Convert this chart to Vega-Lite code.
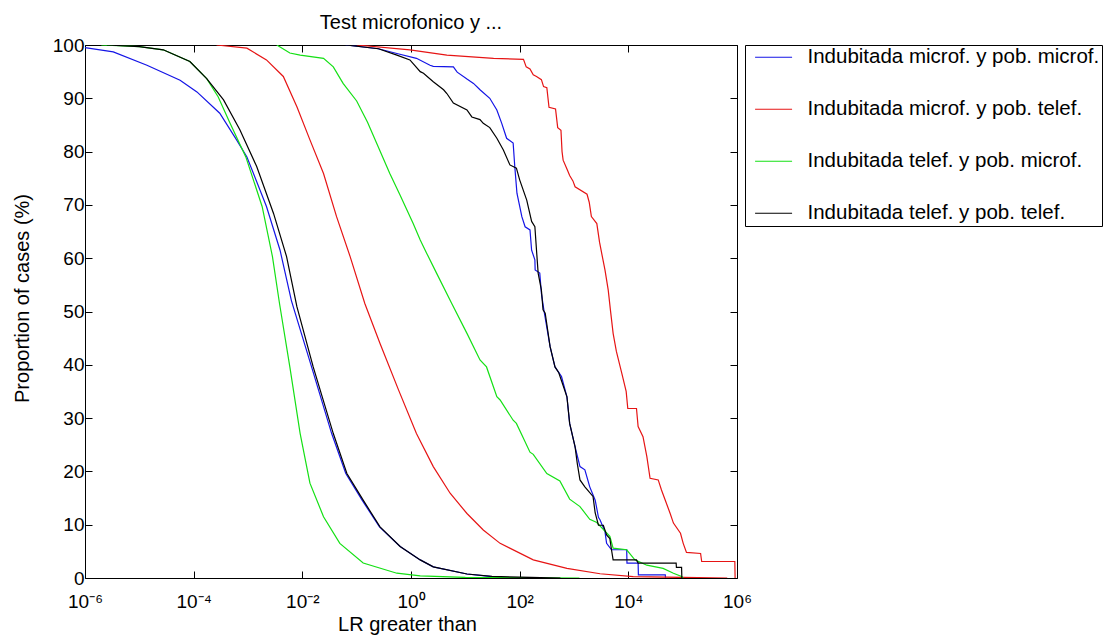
{
  "$schema": "https://vega.github.io/schema/vega-lite/v6.json",
  "width": 652,
  "height": 533,
  "autosize": {"type": "none"},
  "padding": {"left": 85, "top": 45, "right": 372, "bottom": 64},
  "background": "white",
  "title": {"text": "Test microfonico y ...", "fontSize": 20, "fontWeight": "normal", "font": "Liberation Sans", "anchor": "middle", "baseline": "alphabetic", "offset": -13, "color": "black"},
  "config": {
    "font": "Liberation Sans",
    "view": {"stroke": "black", "strokeWidth": 1},
    "axis": {"grid": false, "domain": false, "tickColor": "black", "tickWidth": 1, "tickSize": -7, "labelColor": "black", "titleColor": "black", "labelFont": "Liberation Sans", "titleFont": "Liberation Sans", "labelFontSize": 19, "titleFontSize": 20, "titleFontWeight": "normal"}
  },
  "data": {"values": [
    {"series": "Indubitada microf. y pob. microf.", "part": "L", "lr": -6.0, "pct": 99.5},
    {"series": "Indubitada microf. y pob. microf.", "part": "L", "lr": -5.48, "pct": 98.7},
    {"series": "Indubitada microf. y pob. microf.", "part": "L", "lr": -4.86, "pct": 96.2},
    {"series": "Indubitada microf. y pob. microf.", "part": "L", "lr": -4.25, "pct": 93.4},
    {"series": "Indubitada microf. y pob. microf.", "part": "L", "lr": -3.94, "pct": 91.2},
    {"series": "Indubitada microf. y pob. microf.", "part": "L", "lr": -3.52, "pct": 87.2},
    {"series": "Indubitada microf. y pob. microf.", "part": "L", "lr": -3.21, "pct": 82.2},
    {"series": "Indubitada microf. y pob. microf.", "part": "L", "lr": -3.02, "pct": 79.0},
    {"series": "Indubitada microf. y pob. microf.", "part": "L", "lr": -2.66, "pct": 69.7},
    {"series": "Indubitada microf. y pob. microf.", "part": "L", "lr": -2.41, "pct": 61.5},
    {"series": "Indubitada microf. y pob. microf.", "part": "L", "lr": -2.2, "pct": 52.0},
    {"series": "Indubitada microf. y pob. microf.", "part": "L", "lr": -1.83, "pct": 39.6},
    {"series": "Indubitada microf. y pob. microf.", "part": "L", "lr": -1.46, "pct": 27.1},
    {"series": "Indubitada microf. y pob. microf.", "part": "L", "lr": -1.2, "pct": 19.6},
    {"series": "Indubitada microf. y pob. microf.", "part": "L", "lr": -0.9, "pct": 14.6},
    {"series": "Indubitada microf. y pob. microf.", "part": "L", "lr": -0.58, "pct": 9.6},
    {"series": "Indubitada microf. y pob. microf.", "part": "L", "lr": -0.2, "pct": 5.9},
    {"series": "Indubitada microf. y pob. microf.", "part": "L", "lr": 0.17, "pct": 3.4},
    {"series": "Indubitada microf. y pob. microf.", "part": "L", "lr": 0.41, "pct": 2.1},
    {"series": "Indubitada microf. y pob. microf.", "part": "L", "lr": 1.03, "pct": 0.75},
    {"series": "Indubitada microf. y pob. microf.", "part": "L", "lr": 1.45, "pct": 0.3},
    {"series": "Indubitada microf. y pob. microf.", "part": "L", "lr": 1.6, "pct": 0.0},
    {"series": "Indubitada microf. y pob. microf.", "part": "R", "lr": -1.2, "pct": 100.0},
    {"series": "Indubitada microf. y pob. microf.", "part": "R", "lr": -0.6, "pct": 99.3},
    {"series": "Indubitada microf. y pob. microf.", "part": "R", "lr": -0.26, "pct": 98.4},
    {"series": "Indubitada microf. y pob. microf.", "part": "R", "lr": 0.1, "pct": 97.5},
    {"series": "Indubitada microf. y pob. microf.", "part": "R", "lr": 0.35, "pct": 96.2},
    {"series": "Indubitada microf. y pob. microf.", "part": "R", "lr": 0.41, "pct": 96.0},
    {"series": "Indubitada microf. y pob. microf.", "part": "R", "lr": 0.78, "pct": 95.9},
    {"series": "Indubitada microf. y pob. microf.", "part": "R", "lr": 0.85, "pct": 94.9},
    {"series": "Indubitada microf. y pob. microf.", "part": "R", "lr": 1.03, "pct": 93.6},
    {"series": "Indubitada microf. y pob. microf.", "part": "R", "lr": 1.15, "pct": 92.8},
    {"series": "Indubitada microf. y pob. microf.", "part": "R", "lr": 1.27, "pct": 91.6},
    {"series": "Indubitada microf. y pob. microf.", "part": "R", "lr": 1.45, "pct": 90.0},
    {"series": "Indubitada microf. y pob. microf.", "part": "R", "lr": 1.58, "pct": 87.8},
    {"series": "Indubitada microf. y pob. microf.", "part": "R", "lr": 1.67, "pct": 85.3},
    {"series": "Indubitada microf. y pob. microf.", "part": "R", "lr": 1.76, "pct": 82.5},
    {"series": "Indubitada microf. y pob. microf.", "part": "R", "lr": 1.88, "pct": 81.6},
    {"series": "Indubitada microf. y pob. microf.", "part": "R", "lr": 1.91, "pct": 77.2},
    {"series": "Indubitada microf. y pob. microf.", "part": "R", "lr": 1.95, "pct": 72.2},
    {"series": "Indubitada microf. y pob. microf.", "part": "R", "lr": 2.04, "pct": 67.8},
    {"series": "Indubitada microf. y pob. microf.", "part": "R", "lr": 2.1, "pct": 65.9},
    {"series": "Indubitada microf. y pob. microf.", "part": "R", "lr": 2.19, "pct": 65.3},
    {"series": "Indubitada microf. y pob. microf.", "part": "R", "lr": 2.22, "pct": 61.5},
    {"series": "Indubitada microf. y pob. microf.", "part": "R", "lr": 2.28, "pct": 59.7},
    {"series": "Indubitada microf. y pob. microf.", "part": "R", "lr": 2.285, "pct": 57.8},
    {"series": "Indubitada microf. y pob. microf.", "part": "R", "lr": 2.37, "pct": 57.2},
    {"series": "Indubitada microf. y pob. microf.", "part": "R", "lr": 2.4, "pct": 53.4},
    {"series": "Indubitada microf. y pob. microf.", "part": "R", "lr": 2.45, "pct": 50.0},
    {"series": "Indubitada microf. y pob. microf.", "part": "R", "lr": 2.56, "pct": 43.4},
    {"series": "Indubitada microf. y pob. microf.", "part": "R", "lr": 2.65, "pct": 39.6},
    {"series": "Indubitada microf. y pob. microf.", "part": "R", "lr": 2.77, "pct": 37.8},
    {"series": "Indubitada microf. y pob. microf.", "part": "R", "lr": 2.87, "pct": 34.0},
    {"series": "Indubitada microf. y pob. microf.", "part": "R", "lr": 2.92, "pct": 29.0},
    {"series": "Indubitada microf. y pob. microf.", "part": "R", "lr": 3.02, "pct": 24.6},
    {"series": "Indubitada microf. y pob. microf.", "part": "R", "lr": 3.11, "pct": 20.9},
    {"series": "Indubitada microf. y pob. microf.", "part": "R", "lr": 3.2, "pct": 20.3},
    {"series": "Indubitada microf. y pob. microf.", "part": "R", "lr": 3.29, "pct": 17.1},
    {"series": "Indubitada microf. y pob. microf.", "part": "R", "lr": 3.39, "pct": 14.6},
    {"series": "Indubitada microf. y pob. microf.", "part": "R", "lr": 3.45, "pct": 11.4},
    {"series": "Indubitada microf. y pob. microf.", "part": "R", "lr": 3.48, "pct": 10.9},
    {"series": "Indubitada microf. y pob. microf.", "part": "R", "lr": 3.57, "pct": 8.7},
    {"series": "Indubitada microf. y pob. microf.", "part": "R", "lr": 3.6, "pct": 6.5},
    {"series": "Indubitada microf. y pob. microf.", "part": "R", "lr": 3.69, "pct": 5.3},
    {"series": "Indubitada microf. y pob. microf.", "part": "R", "lr": 3.97, "pct": 5.3},
    {"series": "Indubitada microf. y pob. microf.", "part": "R", "lr": 3.975, "pct": 2.8},
    {"series": "Indubitada microf. y pob. microf.", "part": "R", "lr": 4.18, "pct": 2.8},
    {"series": "Indubitada microf. y pob. microf.", "part": "R", "lr": 4.185, "pct": 0.6},
    {"series": "Indubitada microf. y pob. microf.", "part": "R", "lr": 4.68, "pct": 0.6},
    {"series": "Indubitada microf. y pob. microf.", "part": "R", "lr": 4.685, "pct": 0.0},

    {"series": "Indubitada microf. y pob. telef.", "part": "L", "lr": -3.58, "pct": 100.0},
    {"series": "Indubitada microf. y pob. telef.", "part": "L", "lr": -3.02, "pct": 99.4},
    {"series": "Indubitada microf. y pob. telef.", "part": "L", "lr": -2.66, "pct": 97.2},
    {"series": "Indubitada microf. y pob. telef.", "part": "L", "lr": -2.35, "pct": 94.1},
    {"series": "Indubitada microf. y pob. telef.", "part": "L", "lr": -2.1, "pct": 88.4},
    {"series": "Indubitada microf. y pob. telef.", "part": "L", "lr": -1.86, "pct": 82.2},
    {"series": "Indubitada microf. y pob. telef.", "part": "L", "lr": -1.61, "pct": 75.9},
    {"series": "Indubitada microf. y pob. telef.", "part": "L", "lr": -1.37, "pct": 67.8},
    {"series": "Indubitada microf. y pob. telef.", "part": "L", "lr": -1.12, "pct": 60.3},
    {"series": "Indubitada microf. y pob. telef.", "part": "L", "lr": -0.85, "pct": 51.5},
    {"series": "Indubitada microf. y pob. telef.", "part": "L", "lr": -0.57, "pct": 44.0},
    {"series": "Indubitada microf. y pob. telef.", "part": "L", "lr": -0.23, "pct": 35.3},
    {"series": "Indubitada microf. y pob. telef.", "part": "L", "lr": 0.1, "pct": 27.1},
    {"series": "Indubitada microf. y pob. telef.", "part": "L", "lr": 0.41, "pct": 20.9},
    {"series": "Indubitada microf. y pob. telef.", "part": "L", "lr": 0.72, "pct": 15.9},
    {"series": "Indubitada microf. y pob. telef.", "part": "L", "lr": 1.03, "pct": 12.1},
    {"series": "Indubitada microf. y pob. telef.", "part": "L", "lr": 1.33, "pct": 9.0},
    {"series": "Indubitada microf. y pob. telef.", "part": "L", "lr": 1.64, "pct": 6.5},
    {"series": "Indubitada microf. y pob. telef.", "part": "L", "lr": 2.25, "pct": 3.4},
    {"series": "Indubitada microf. y pob. telef.", "part": "L", "lr": 2.87, "pct": 1.8},
    {"series": "Indubitada microf. y pob. telef.", "part": "L", "lr": 3.48, "pct": 0.8},
    {"series": "Indubitada microf. y pob. telef.", "part": "L", "lr": 4.09, "pct": 0.25},
    {"series": "Indubitada microf. y pob. telef.", "part": "L", "lr": 5.0, "pct": 0.1},
    {"series": "Indubitada microf. y pob. telef.", "part": "L", "lr": 5.82, "pct": 0.0},
    {"series": "Indubitada microf. y pob. telef.", "part": "R", "lr": -1.0, "pct": 100.0},
    {"series": "Indubitada microf. y pob. telef.", "part": "R", "lr": -0.02, "pct": 99.1},
    {"series": "Indubitada microf. y pob. telef.", "part": "R", "lr": 0.66, "pct": 98.1},
    {"series": "Indubitada microf. y pob. telef.", "part": "R", "lr": 1.52, "pct": 97.5},
    {"series": "Indubitada microf. y pob. telef.", "part": "R", "lr": 2.07, "pct": 97.3},
    {"series": "Indubitada microf. y pob. telef.", "part": "R", "lr": 2.12, "pct": 95.9},
    {"series": "Indubitada microf. y pob. telef.", "part": "R", "lr": 2.19, "pct": 95.5},
    {"series": "Indubitada microf. y pob. telef.", "part": "R", "lr": 2.25, "pct": 94.4},
    {"series": "Indubitada microf. y pob. telef.", "part": "R", "lr": 2.31, "pct": 94.1},
    {"series": "Indubitada microf. y pob. telef.", "part": "R", "lr": 2.4, "pct": 93.5},
    {"series": "Indubitada microf. y pob. telef.", "part": "R", "lr": 2.44, "pct": 92.2},
    {"series": "Indubitada microf. y pob. telef.", "part": "R", "lr": 2.5, "pct": 92.0},
    {"series": "Indubitada microf. y pob. telef.", "part": "R", "lr": 2.54, "pct": 88.3},
    {"series": "Indubitada microf. y pob. telef.", "part": "R", "lr": 2.66, "pct": 88.0},
    {"series": "Indubitada microf. y pob. telef.", "part": "R", "lr": 2.7, "pct": 84.5},
    {"series": "Indubitada microf. y pob. telef.", "part": "R", "lr": 2.76, "pct": 84.0},
    {"series": "Indubitada microf. y pob. telef.", "part": "R", "lr": 2.78, "pct": 80.0},
    {"series": "Indubitada microf. y pob. telef.", "part": "R", "lr": 2.8, "pct": 78.4},
    {"series": "Indubitada microf. y pob. telef.", "part": "R", "lr": 2.88, "pct": 76.5},
    {"series": "Indubitada microf. y pob. telef.", "part": "R", "lr": 2.92, "pct": 75.5},
    {"series": "Indubitada microf. y pob. telef.", "part": "R", "lr": 2.98, "pct": 74.5},
    {"series": "Indubitada microf. y pob. telef.", "part": "R", "lr": 3.02, "pct": 73.4},
    {"series": "Indubitada microf. y pob. telef.", "part": "R", "lr": 3.24, "pct": 72.0},
    {"series": "Indubitada microf. y pob. telef.", "part": "R", "lr": 3.28, "pct": 70.5},
    {"series": "Indubitada microf. y pob. telef.", "part": "R", "lr": 3.32, "pct": 67.8},
    {"series": "Indubitada microf. y pob. telef.", "part": "R", "lr": 3.42, "pct": 66.5},
    {"series": "Indubitada microf. y pob. telef.", "part": "R", "lr": 3.47, "pct": 63.0},
    {"series": "Indubitada microf. y pob. telef.", "part": "R", "lr": 3.51, "pct": 60.9},
    {"series": "Indubitada microf. y pob. telef.", "part": "R", "lr": 3.57, "pct": 57.8},
    {"series": "Indubitada microf. y pob. telef.", "part": "R", "lr": 3.63, "pct": 54.0},
    {"series": "Indubitada microf. y pob. telef.", "part": "R", "lr": 3.67, "pct": 50.3},
    {"series": "Indubitada microf. y pob. telef.", "part": "R", "lr": 3.72, "pct": 45.9},
    {"series": "Indubitada microf. y pob. telef.", "part": "R", "lr": 3.78, "pct": 42.5},
    {"series": "Indubitada microf. y pob. telef.", "part": "R", "lr": 3.88, "pct": 38.4},
    {"series": "Indubitada microf. y pob. telef.", "part": "R", "lr": 3.96, "pct": 35.0},
    {"series": "Indubitada microf. y pob. telef.", "part": "R", "lr": 3.99, "pct": 31.8},
    {"series": "Indubitada microf. y pob. telef.", "part": "R", "lr": 4.15, "pct": 31.8},
    {"series": "Indubitada microf. y pob. telef.", "part": "R", "lr": 4.18, "pct": 28.4},
    {"series": "Indubitada microf. y pob. telef.", "part": "R", "lr": 4.27, "pct": 26.5},
    {"series": "Indubitada microf. y pob. telef.", "part": "R", "lr": 4.34, "pct": 22.8},
    {"series": "Indubitada microf. y pob. telef.", "part": "R", "lr": 4.4, "pct": 18.7},
    {"series": "Indubitada microf. y pob. telef.", "part": "R", "lr": 4.55, "pct": 18.4},
    {"series": "Indubitada microf. y pob. telef.", "part": "R", "lr": 4.61, "pct": 16.5},
    {"series": "Indubitada microf. y pob. telef.", "part": "R", "lr": 4.68, "pct": 14.6},
    {"series": "Indubitada microf. y pob. telef.", "part": "R", "lr": 4.77, "pct": 12.1},
    {"series": "Indubitada microf. y pob. telef.", "part": "R", "lr": 4.83, "pct": 10.3},
    {"series": "Indubitada microf. y pob. telef.", "part": "R", "lr": 4.96, "pct": 8.4},
    {"series": "Indubitada microf. y pob. telef.", "part": "R", "lr": 5.01, "pct": 6.5},
    {"series": "Indubitada microf. y pob. telef.", "part": "R", "lr": 5.07, "pct": 4.8},
    {"series": "Indubitada microf. y pob. telef.", "part": "R", "lr": 5.33, "pct": 4.6},
    {"series": "Indubitada microf. y pob. telef.", "part": "R", "lr": 5.35, "pct": 3.1},
    {"series": "Indubitada microf. y pob. telef.", "part": "R", "lr": 5.96, "pct": 3.1},
    {"series": "Indubitada microf. y pob. telef.", "part": "R", "lr": 5.965, "pct": 0.0},

    {"series": "Indubitada telef. y pob. microf.", "part": "L", "lr": -5.7, "pct": 100.0},
    {"series": "Indubitada telef. y pob. microf.", "part": "L", "lr": -5.0, "pct": 99.7},
    {"series": "Indubitada telef. y pob. microf.", "part": "L", "lr": -4.56, "pct": 99.1},
    {"series": "Indubitada telef. y pob. microf.", "part": "L", "lr": -4.07, "pct": 96.9},
    {"series": "Indubitada telef. y pob. microf.", "part": "L", "lr": -3.76, "pct": 93.7},
    {"series": "Indubitada telef. y pob. microf.", "part": "L", "lr": -3.55, "pct": 90.3},
    {"series": "Indubitada telef. y pob. microf.", "part": "L", "lr": -3.33, "pct": 85.3},
    {"series": "Indubitada telef. y pob. microf.", "part": "L", "lr": -3.04, "pct": 79.0},
    {"series": "Indubitada telef. y pob. microf.", "part": "L", "lr": -2.74, "pct": 69.7},
    {"series": "Indubitada telef. y pob. microf.", "part": "L", "lr": -2.55, "pct": 60.3},
    {"series": "Indubitada telef. y pob. microf.", "part": "L", "lr": -2.42, "pct": 51.5},
    {"series": "Indubitada telef. y pob. microf.", "part": "L", "lr": -2.23, "pct": 39.6},
    {"series": "Indubitada telef. y pob. microf.", "part": "L", "lr": -2.04, "pct": 27.1},
    {"series": "Indubitada telef. y pob. microf.", "part": "L", "lr": -1.86, "pct": 17.8},
    {"series": "Indubitada telef. y pob. microf.", "part": "L", "lr": -1.61, "pct": 11.5},
    {"series": "Indubitada telef. y pob. microf.", "part": "L", "lr": -1.31, "pct": 6.5},
    {"series": "Indubitada telef. y pob. microf.", "part": "L", "lr": -0.88, "pct": 2.8},
    {"series": "Indubitada telef. y pob. microf.", "part": "L", "lr": -0.26, "pct": 0.9},
    {"series": "Indubitada telef. y pob. microf.", "part": "L", "lr": 0.17, "pct": 0.4},
    {"series": "Indubitada telef. y pob. microf.", "part": "L", "lr": 1.0, "pct": 0.1},
    {"series": "Indubitada telef. y pob. microf.", "part": "L", "lr": 3.1, "pct": 0.0},
    {"series": "Indubitada telef. y pob. microf.", "part": "R", "lr": -2.47, "pct": 100.0},
    {"series": "Indubitada telef. y pob. microf.", "part": "R", "lr": -2.23, "pct": 98.5},
    {"series": "Indubitada telef. y pob. microf.", "part": "R", "lr": -2.04, "pct": 98.1},
    {"series": "Indubitada telef. y pob. microf.", "part": "R", "lr": -1.61, "pct": 97.5},
    {"series": "Indubitada telef. y pob. microf.", "part": "R", "lr": -1.43, "pct": 95.9},
    {"series": "Indubitada telef. y pob. microf.", "part": "R", "lr": -1.25, "pct": 92.8},
    {"series": "Indubitada telef. y pob. microf.", "part": "R", "lr": -1.0, "pct": 89.5},
    {"series": "Indubitada telef. y pob. microf.", "part": "R", "lr": -0.8, "pct": 85.5},
    {"series": "Indubitada telef. y pob. microf.", "part": "R", "lr": -0.63, "pct": 81.5},
    {"series": "Indubitada telef. y pob. microf.", "part": "R", "lr": -0.39, "pct": 75.9},
    {"series": "Indubitada telef. y pob. microf.", "part": "R", "lr": -0.2, "pct": 71.8},
    {"series": "Indubitada telef. y pob. microf.", "part": "R", "lr": 0.04, "pct": 66.5},
    {"series": "Indubitada telef. y pob. microf.", "part": "R", "lr": 0.17, "pct": 63.4},
    {"series": "Indubitada telef. y pob. microf.", "part": "R", "lr": 0.29, "pct": 60.9},
    {"series": "Indubitada telef. y pob. microf.", "part": "R", "lr": 0.47, "pct": 57.2},
    {"series": "Indubitada telef. y pob. microf.", "part": "R", "lr": 0.75, "pct": 51.5},
    {"series": "Indubitada telef. y pob. microf.", "part": "R", "lr": 1.03, "pct": 45.9},
    {"series": "Indubitada telef. y pob. microf.", "part": "R", "lr": 1.27, "pct": 40.9},
    {"series": "Indubitada telef. y pob. microf.", "part": "R", "lr": 1.39, "pct": 39.6},
    {"series": "Indubitada telef. y pob. microf.", "part": "R", "lr": 1.58, "pct": 34.0},
    {"series": "Indubitada telef. y pob. microf.", "part": "R", "lr": 1.64, "pct": 33.4},
    {"series": "Indubitada telef. y pob. microf.", "part": "R", "lr": 1.88, "pct": 29.6},
    {"series": "Indubitada telef. y pob. microf.", "part": "R", "lr": 1.94, "pct": 29.0},
    {"series": "Indubitada telef. y pob. microf.", "part": "R", "lr": 2.19, "pct": 23.6},
    {"series": "Indubitada telef. y pob. microf.", "part": "R", "lr": 2.25, "pct": 23.2},
    {"series": "Indubitada telef. y pob. microf.", "part": "R", "lr": 2.5, "pct": 19.6},
    {"series": "Indubitada telef. y pob. microf.", "part": "R", "lr": 2.74, "pct": 18.2},
    {"series": "Indubitada telef. y pob. microf.", "part": "R", "lr": 2.92, "pct": 14.8},
    {"series": "Indubitada telef. y pob. microf.", "part": "R", "lr": 3.11, "pct": 13.4},
    {"series": "Indubitada telef. y pob. microf.", "part": "R", "lr": 3.29, "pct": 11.0},
    {"series": "Indubitada telef. y pob. microf.", "part": "R", "lr": 3.42, "pct": 10.4},
    {"series": "Indubitada telef. y pob. microf.", "part": "R", "lr": 3.66, "pct": 7.8},
    {"series": "Indubitada telef. y pob. microf.", "part": "R", "lr": 3.72, "pct": 5.6},
    {"series": "Indubitada telef. y pob. microf.", "part": "R", "lr": 3.97, "pct": 5.3},
    {"series": "Indubitada telef. y pob. microf.", "part": "R", "lr": 4.12, "pct": 3.4},
    {"series": "Indubitada telef. y pob. microf.", "part": "R", "lr": 4.34, "pct": 2.4},
    {"series": "Indubitada telef. y pob. microf.", "part": "R", "lr": 4.64, "pct": 1.8},
    {"series": "Indubitada telef. y pob. microf.", "part": "R", "lr": 4.83, "pct": 0.9},
    {"series": "Indubitada telef. y pob. microf.", "part": "R", "lr": 4.98, "pct": 0.3},
    {"series": "Indubitada telef. y pob. microf.", "part": "R", "lr": 5.01, "pct": 0.0},

    {"series": "Indubitada telef. y pob. telef.", "part": "L", "lr": -5.6, "pct": 100.0},
    {"series": "Indubitada telef. y pob. telef.", "part": "L", "lr": -5.0, "pct": 99.7},
    {"series": "Indubitada telef. y pob. telef.", "part": "L", "lr": -4.56, "pct": 99.1},
    {"series": "Indubitada telef. y pob. telef.", "part": "L", "lr": -4.07, "pct": 96.9},
    {"series": "Indubitada telef. y pob. telef.", "part": "L", "lr": -3.76, "pct": 93.7},
    {"series": "Indubitada telef. y pob. telef.", "part": "L", "lr": -3.45, "pct": 89.7},
    {"series": "Indubitada telef. y pob. telef.", "part": "L", "lr": -3.15, "pct": 84.1},
    {"series": "Indubitada telef. y pob. telef.", "part": "L", "lr": -2.84, "pct": 77.2},
    {"series": "Indubitada telef. y pob. telef.", "part": "L", "lr": -2.53, "pct": 68.4},
    {"series": "Indubitada telef. y pob. telef.", "part": "L", "lr": -2.29, "pct": 60.3},
    {"series": "Indubitada telef. y pob. telef.", "part": "L", "lr": -2.1, "pct": 50.9},
    {"series": "Indubitada telef. y pob. telef.", "part": "L", "lr": -1.8, "pct": 39.6},
    {"series": "Indubitada telef. y pob. telef.", "part": "L", "lr": -1.43, "pct": 27.1},
    {"series": "Indubitada telef. y pob. telef.", "part": "L", "lr": -1.18, "pct": 19.6},
    {"series": "Indubitada telef. y pob. telef.", "part": "L", "lr": -0.88, "pct": 14.6},
    {"series": "Indubitada telef. y pob. telef.", "part": "L", "lr": -0.57, "pct": 9.6},
    {"series": "Indubitada telef. y pob. telef.", "part": "L", "lr": -0.2, "pct": 5.9},
    {"series": "Indubitada telef. y pob. telef.", "part": "L", "lr": 0.17, "pct": 3.4},
    {"series": "Indubitada telef. y pob. telef.", "part": "L", "lr": 0.41, "pct": 2.1},
    {"series": "Indubitada telef. y pob. telef.", "part": "L", "lr": 1.03, "pct": 0.75},
    {"series": "Indubitada telef. y pob. telef.", "part": "L", "lr": 1.49, "pct": 0.3},
    {"series": "Indubitada telef. y pob. telef.", "part": "L", "lr": 2.2, "pct": 0.1},
    {"series": "Indubitada telef. y pob. telef.", "part": "L", "lr": 2.75, "pct": 0.0},
    {"series": "Indubitada telef. y pob. telef.", "part": "R", "lr": -1.2, "pct": 100.0},
    {"series": "Indubitada telef. y pob. telef.", "part": "R", "lr": -0.6, "pct": 99.3},
    {"series": "Indubitada telef. y pob. telef.", "part": "R", "lr": -0.26, "pct": 98.1},
    {"series": "Indubitada telef. y pob. telef.", "part": "R", "lr": -0.02, "pct": 97.2},
    {"series": "Indubitada telef. y pob. telef.", "part": "R", "lr": 0.17, "pct": 95.0},
    {"series": "Indubitada telef. y pob. telef.", "part": "R", "lr": 0.23, "pct": 94.7},
    {"series": "Indubitada telef. y pob. telef.", "part": "R", "lr": 0.41, "pct": 93.1},
    {"series": "Indubitada telef. y pob. telef.", "part": "R", "lr": 0.6, "pct": 91.6},
    {"series": "Indubitada telef. y pob. telef.", "part": "R", "lr": 0.66, "pct": 90.9},
    {"series": "Indubitada telef. y pob. telef.", "part": "R", "lr": 0.78, "pct": 89.1},
    {"series": "Indubitada telef. y pob. telef.", "part": "R", "lr": 1.03, "pct": 87.8},
    {"series": "Indubitada telef. y pob. telef.", "part": "R", "lr": 1.12, "pct": 86.5},
    {"series": "Indubitada telef. y pob. telef.", "part": "R", "lr": 1.27, "pct": 86.0},
    {"series": "Indubitada telef. y pob. telef.", "part": "R", "lr": 1.33, "pct": 85.3},
    {"series": "Indubitada telef. y pob. telef.", "part": "R", "lr": 1.45, "pct": 84.5},
    {"series": "Indubitada telef. y pob. telef.", "part": "R", "lr": 1.58, "pct": 82.5},
    {"series": "Indubitada telef. y pob. telef.", "part": "R", "lr": 1.7, "pct": 80.3},
    {"series": "Indubitada telef. y pob. telef.", "part": "R", "lr": 1.82, "pct": 77.5},
    {"series": "Indubitada telef. y pob. telef.", "part": "R", "lr": 1.94, "pct": 76.9},
    {"series": "Indubitada telef. y pob. telef.", "part": "R", "lr": 2.0, "pct": 74.7},
    {"series": "Indubitada telef. y pob. telef.", "part": "R", "lr": 2.13, "pct": 70.9},
    {"series": "Indubitada telef. y pob. telef.", "part": "R", "lr": 2.22, "pct": 66.9},
    {"series": "Indubitada telef. y pob. telef.", "part": "R", "lr": 2.28, "pct": 65.9},
    {"series": "Indubitada telef. y pob. telef.", "part": "R", "lr": 2.31, "pct": 61.5},
    {"series": "Indubitada telef. y pob. telef.", "part": "R", "lr": 2.34, "pct": 57.2},
    {"series": "Indubitada telef. y pob. telef.", "part": "R", "lr": 2.4, "pct": 54.0},
    {"series": "Indubitada telef. y pob. telef.", "part": "R", "lr": 2.43, "pct": 50.3},
    {"series": "Indubitada telef. y pob. telef.", "part": "R", "lr": 2.47, "pct": 49.7},
    {"series": "Indubitada telef. y pob. telef.", "part": "R", "lr": 2.56, "pct": 43.4},
    {"series": "Indubitada telef. y pob. telef.", "part": "R", "lr": 2.65, "pct": 39.6},
    {"series": "Indubitada telef. y pob. telef.", "part": "R", "lr": 2.72, "pct": 38.5},
    {"series": "Indubitada telef. y pob. telef.", "part": "R", "lr": 2.77, "pct": 37.0},
    {"series": "Indubitada telef. y pob. telef.", "part": "R", "lr": 2.87, "pct": 34.0},
    {"series": "Indubitada telef. y pob. telef.", "part": "R", "lr": 2.92, "pct": 29.0},
    {"series": "Indubitada telef. y pob. telef.", "part": "R", "lr": 3.02, "pct": 24.6},
    {"series": "Indubitada telef. y pob. telef.", "part": "R", "lr": 3.06, "pct": 21.5},
    {"series": "Indubitada telef. y pob. telef.", "part": "R", "lr": 3.11, "pct": 18.4},
    {"series": "Indubitada telef. y pob. telef.", "part": "R", "lr": 3.2, "pct": 17.1},
    {"series": "Indubitada telef. y pob. telef.", "part": "R", "lr": 3.35, "pct": 15.3},
    {"series": "Indubitada telef. y pob. telef.", "part": "R", "lr": 3.39, "pct": 12.2},
    {"series": "Indubitada telef. y pob. telef.", "part": "R", "lr": 3.45, "pct": 9.9},
    {"series": "Indubitada telef. y pob. telef.", "part": "R", "lr": 3.54, "pct": 9.9},
    {"series": "Indubitada telef. y pob. telef.", "part": "R", "lr": 3.6, "pct": 8.1},
    {"series": "Indubitada telef. y pob. telef.", "part": "R", "lr": 3.66, "pct": 7.4},
    {"series": "Indubitada telef. y pob. telef.", "part": "R", "lr": 3.69, "pct": 5.3},
    {"series": "Indubitada telef. y pob. telef.", "part": "R", "lr": 3.72, "pct": 3.4},
    {"series": "Indubitada telef. y pob. telef.", "part": "R", "lr": 4.15, "pct": 3.4},
    {"series": "Indubitada telef. y pob. telef.", "part": "R", "lr": 4.18, "pct": 2.8},
    {"series": "Indubitada telef. y pob. telef.", "part": "R", "lr": 4.88, "pct": 2.8},
    {"series": "Indubitada telef. y pob. telef.", "part": "R", "lr": 4.885, "pct": 2.0},
    {"series": "Indubitada telef. y pob. telef.", "part": "R", "lr": 4.98, "pct": 2.0},
    {"series": "Indubitada telef. y pob. telef.", "part": "R", "lr": 4.985, "pct": 0.0}
  ]},
  "layer": [
    {
      "mark": {"type": "line", "strokeWidth": 1.2, "clip": true},
      "encoding": {
        "x": {"field": "lr", "type": "quantitative", "scale": {"domain": [-6, 6], "nice": false, "zero": false},
              "axis": {"orient": "bottom", "values": [-6, -4, -2, 0, 2, 4, 6], "labelPadding": 21, "labelExpr": "datum.value == -6 ? '10⁻⁶' : datum.value == -4 ? '10⁻⁴' : datum.value == -2 ? '10⁻²' : datum.value == 0 ? '10⁰' : datum.value == 2 ? '10²' : datum.value == 4 ? '10⁴' : '10⁶'",
                       "title": "LR greater than", "titleX": 322, "titleY": 52, "titleBaseline": "alphabetic", "titleAlign": "center", "labelFlush": false}},
        "y": {"field": "pct", "type": "quantitative", "scale": {"domain": [0, 100], "nice": false},
              "axis": {"orient": "left", "values": [0, 10, 20, 30, 40, 50, 60, 70, 80, 90, 100], "labelPadding": 8, "title": "Proportion of cases (%)", "titleX": -63, "titleY": 253, "titleAngle": -90, "titleBaseline": "middle", "titleAlign": "center", "labelFlush": false}},
        "color": {"field": "series", "type": "nominal",
                  "scale": {"domain": ["Indubitada microf. y pob. microf.", "Indubitada microf. y pob. telef.", "Indubitada telef. y pob. microf.", "Indubitada telef. y pob. telef."],
                            "range": ["#1414e6", "#e61414", "#14e014", "#000000"]},
                  "legend": {"orient": "none", "legendX": 660, "legendY": 0, "title": null, "symbolType": "M-0.35,0H5.65", "symbolSize": 152, "symbolStrokeWidth": 1.2, "labelFontSize": 20.5, "labelFont": "Liberation Sans", "labelColor": "black", "labelOffset": 40, "rowPadding": 31, "padding": 2, "strokeColor": "black", "fillColor": "white", "labelLimit": 400}},
        "detail": {"field": "part"}
      }
    },
    {
      "mark": {"type": "point", "opacity": 0},
      "encoding": {
        "x": {"field": "lr", "type": "quantitative", "axis": {"orient": "top", "values": [-6, -4, -2, 0, 2, 4, 6], "labels": false, "title": null, "minExtent": 0, "maxExtent": 0}},
        "y": {"field": "pct", "type": "quantitative", "axis": {"orient": "right", "values": [0, 10, 20, 30, 40, 50, 60, 70, 80, 90, 100], "labels": false, "title": null}}
      }
    }
  ],
  "resolve": {"axis": {"x": "independent", "y": "independent"}}
}
